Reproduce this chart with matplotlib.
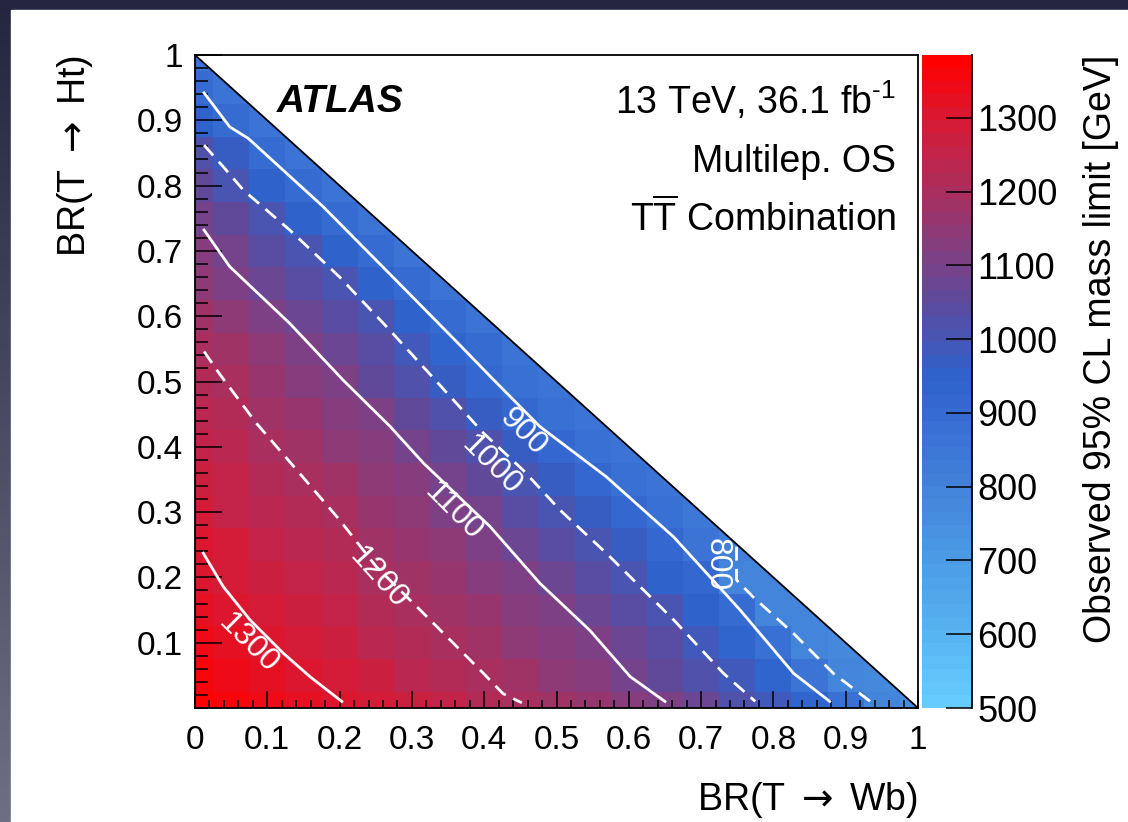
import numpy as np
import matplotlib
matplotlib.use('Agg')
import matplotlib.pyplot as plt
from matplotlib.colors import LinearSegmentedColormap, Normalize
from matplotlib.patches import Polygon, Rectangle
from matplotlib.ticker import MultipleLocator, FixedLocator

plt.rcParams['font.family'] = ['Liberation Sans', 'DejaVu Sans']
plt.rcParams['mathtext.fontset'] = 'custom'
plt.rcParams['mathtext.rm'] = 'Liberation Sans'
plt.rcParams['mathtext.it'] = 'Liberation Sans:italic'
plt.rcParams['mathtext.bf'] = 'Liberation Sans:bold'
plt.rcParams['mathtext.sf'] = 'DejaVu Sans'

# grid of branching ratios (bin centres)
br_wb = [0.0, 0.05, 0.1, 0.15, 0.2, 0.25, 0.3, 0.35, 0.4, 0.45, 0.5,
         0.55, 0.6, 0.65, 0.7, 0.75, 0.8, 0.85, 0.9, 0.95, 1.0]
br_ht = [0.0, 0.05, 0.1, 0.15, 0.2, 0.25, 0.3, 0.35, 0.4, 0.45, 0.5,
         0.55, 0.6, 0.65, 0.7, 0.75, 0.8, 0.85, 0.9, 0.95, 1.0]

# observed mass limit [GeV], one row per BR(Ht), columns BR(Wb) = 0 ... 1-BR(Ht)
mass_rows = [
    [1380, 1360, 1340, 1322, 1305, 1286, 1265, 1245, 1224, 1204, 1180, 1155, 1130, 1105, 1068, 1028, 985, 935, 875, 795, 760],
    [1365, 1344, 1323, 1303, 1282, 1262, 1241, 1221, 1200, 1175, 1150, 1125, 1100, 1063, 1026, 984, 932, 864, 790, 770],
    [1344, 1323, 1303, 1283, 1263, 1243, 1223, 1202, 1178, 1154, 1129, 1105, 1070, 1032, 993, 941, 880, 795, 780],
    [1327, 1306, 1286, 1266, 1246, 1225, 1205, 1181, 1157, 1132, 1107, 1074, 1036, 998, 951, 904, 792, 785],
    [1312, 1292, 1270, 1248, 1227, 1205, 1182, 1158, 1134, 1110, 1077, 1040, 1002, 958, 913, 797, 790],
    [1298, 1279, 1257, 1235, 1212, 1189, 1164, 1140, 1115, 1084, 1045, 1006, 963, 919, 860, 815],
    [1280, 1259, 1238, 1217, 1195, 1170, 1144, 1119, 1089, 1048, 1007, 973, 918, 880, 850],
    [1265, 1244, 1222, 1201, 1174, 1147, 1120, 1091, 1052, 1013, 969, 922, 885, 855],
    [1250, 1228, 1205, 1179, 1152, 1125, 1097, 1056, 1015, 965, 911, 885, 860],
    [1235, 1212, 1186, 1158, 1130, 1102, 1061, 1020, 970, 912, 885, 860],
    [1220, 1195, 1165, 1135, 1104, 1064, 1022, 973, 915, 885, 860],
    [1205, 1174, 1142, 1109, 1071, 1031, 987, 933, 890, 860],
    [1185, 1150, 1115, 1079, 1043, 1007, 951, 890, 860],
    [1150, 1114, 1079, 1043, 1007, 951, 890, 860],
    [1126, 1087, 1047, 1008, 957, 893, 860],
    [1090, 1050, 1007, 950, 896, 860],
    [1060, 1012, 955, 895, 860],
    [1025, 963, 896, 860],
    [960, 890, 860],
    [895, 860],
    [860],
]

# contour lines (BR(Wb), BR(Ht))
c800_x = [0.749, 0.749, 0.772, 0.828, 0.883, 0.934]
c800_y = [0.247, 0.196, 0.170, 0.114, 0.053, 0.010]
c900_x = [0.0125, 0.048, 0.074, 0.177, 0.270, 0.360, 0.410, 0.477, 0.569, 0.662, 0.754, 0.828, 0.878]
c900_y = [0.942, 0.890, 0.872, 0.768, 0.664, 0.563, 0.506, 0.431, 0.354, 0.262, 0.150, 0.053, 0.010]
c1000_x = [0.0125, 0.039, 0.067, 0.131, 0.200, 0.270, 0.330, 0.399, 0.454, 0.505, 0.569, 0.662, 0.731, 0.775]
c1000_y = [0.862, 0.829, 0.793, 0.732, 0.660, 0.578, 0.505, 0.421, 0.364, 0.303, 0.237, 0.135, 0.053, 0.010]
c1100_x = [0.0125, 0.048, 0.131, 0.205, 0.270, 0.316, 0.408, 0.477, 0.546, 0.602, 0.650]
c1100_y = [0.732, 0.676, 0.589, 0.502, 0.431, 0.375, 0.278, 0.191, 0.119, 0.048, 0.010]
c1200_x = [0.0125, 0.035, 0.085, 0.145, 0.200, 0.251, 0.316, 0.399, 0.426, 0.452]
c1200_y = [0.546, 0.510, 0.436, 0.359, 0.288, 0.216, 0.145, 0.053, 0.022, 0.008]
c1300_x = [0.0115, 0.039, 0.076, 0.122, 0.159, 0.203]
c1300_y = [0.237, 0.186, 0.135, 0.084, 0.048, 0.010]

x_ticks = [0.0, 0.1, 0.2, 0.3, 0.4, 0.5, 0.6, 0.7, 0.8, 0.9, 1.0]
x_labels = ['0', '0.1', '0.2', '0.3', '0.4', '0.5', '0.6', '0.7', '0.8', '0.9', '1']
y_ticks = [0.1, 0.2, 0.3, 0.4, 0.5, 0.6, 0.7, 0.8, 0.9, 1.0]
y_labels = ['0.1', '0.2', '0.3', '0.4', '0.5', '0.6', '0.7', '0.8', '0.9', '1']
cbar_ticks = [500, 600, 700, 800, 900, 1000, 1100, 1200, 1300]
z_min, z_max = 500, 1385

# palette
stops = [(500, '#66ccff'), (600, '#57b2f1'), (700, '#4b9ae4'), (800, '#4282da'),
         (900, '#366bd2'), (950, '#2e62cc'), (1000, '#4656b4'), (1050, '#5c4b9e'),
         (1100, '#76428a'), (1150, '#8e3a76'), (1200, '#a73060'), (1250, '#bf254c'),
         (1300, '#d61a36'), (1385, '#ff0000')]
cmap = LinearSegmentedColormap.from_list(
    'lim', [((v - z_min) / (z_max - z_min), c) for v, c in stops], N=50)
norm = Normalize(z_min, z_max)

Z = np.full((len(br_ht), len(br_wb)), np.nan)
for i, row in enumerate(mass_rows):
    Z[i, :len(row)] = row
xc = np.array(br_wb)
yc = np.array(br_ht)
xe = np.append(xc - 0.025, xc[-1] + 0.025)
ye = np.append(yc - 0.025, yc[-1] + 0.025)

fig = plt.figure(figsize=(11.28, 8.22), dpi=100)

# slide background
bg = fig.add_axes([0, 0, 1, 1], zorder=-10)
grad = np.linspace(0, 1, 256).reshape(-1, 1)
bg.imshow(grad, aspect='auto', extent=[0, 1, 0, 1], origin='lower',
          cmap=LinearSegmentedColormap.from_list('bg', ['#6e6e84', '#25253f']))
bg.add_patch(Rectangle((11 / 1128, 0), 1, 812 / 822, color='white'))
bg.set_xlim(0, 1)
bg.set_ylim(0, 1)
bg.axis('off')

ax = fig.add_axes([195 / 1128, 1 - 708 / 822, 723 / 1128, 653 / 822])
mesh = ax.pcolormesh(xe, ye, Z, cmap=cmap, norm=norm, zorder=1)
ax.add_patch(Polygon([(0, 1), (1, 0), (1, 1)], closed=True, facecolor='white',
                     edgecolor='none', zorder=1.5))
ax.plot([0, 1], [1, 0], color='black', lw=1.3, zorder=2)

lw = 2.0
dash = (0, (5, 3))
ax.plot(c1300_x, c1300_y, color='white', lw=lw, zorder=3)
ax.plot(c1200_x, c1200_y, color='white', lw=lw, ls=dash, zorder=3)
ax.plot(c1100_x, c1100_y, color='white', lw=lw, zorder=3)
ax.plot(c1000_x, c1000_y, color='white', lw=lw, ls=dash, zorder=3)
ax.plot(c900_x, c900_y, color='white', lw=lw, zorder=3)
ax.plot(c800_x, c800_y, color='white', lw=lw, ls=dash, zorder=3)

# contour labels
for txt, x, y, rot in [('900', 0.454, 0.423, -45), ('1000', 0.41, 0.372, -45),
                       ('1100', 0.357, 0.300, -45), ('1200', 0.254, 0.199, -48),
                       ('1300', 0.074, 0.099, -45), ('800', 0.722, 0.219, -90)]:
    ax.text(x, y, txt, color='white', fontsize=23, rotation=rot,
            ha='center', va='center', rotation_mode='anchor', zorder=4)

ax.set_xlim(0, 1)
ax.set_ylim(0, 1)
ax.xaxis.set_major_locator(FixedLocator(x_ticks))
ax.xaxis.set_minor_locator(MultipleLocator(0.02))
ax.set_xticklabels(x_labels)
ax.yaxis.set_major_locator(FixedLocator(y_ticks))
ax.yaxis.set_minor_locator(MultipleLocator(0.02))
ax.set_yticklabels(y_labels)
ax.tick_params(axis='x', which='major', direction='in', length=12.5, width=1.1,
               top=False, labelsize=24, pad=12)
ax.tick_params(axis='x', which='minor', direction='in', length=6, width=1.1, top=False)
ax.tick_params(axis='y', which='major', direction='in', length=19.5, width=1.1,
               right=False, labelsize=24, pad=9)
ax.tick_params(axis='y', which='minor', direction='in', length=9.5, width=1.1, right=False)
for s in ax.spines.values():
    s.set_linewidth(1.3)

ax.text(-0.166, 1.0, r'BR(T $\mathsf{\rightarrow}$ Ht)', rotation=90, ha='center', va='top',
        fontsize=27, transform=ax.transAxes)
ax.text(1.0, -0.141, r'BR(T $\mathsf{\rightarrow}$ Wb)', ha='right', va='center', fontsize=27,
        transform=ax.transAxes)

ax.text(0.113, 0.928, 'ATLAS', fontsize=28, fontweight='bold', fontstyle='italic',
        ha='left', va='center', transform=ax.transAxes)
ax.text(0.9696, 0.930, r'13 TeV, 36.1 fb$^{\text{-1}}$', fontsize=27, ha='right',
        va='center', transform=ax.transAxes)
ax.text(0.9696, 0.836, 'Multilep. OS', fontsize=27, ha='right', va='center',
        transform=ax.transAxes)
ax.text(0.9696, 0.750, r'T$\overline{\mathrm{T}}$ Combination', fontsize=27,
        ha='right', va='center', transform=ax.transAxes)

# colour bar
cax = fig.add_axes([922 / 1128, 1 - 708 / 822, 50 / 1128, 653 / 822])
cb = fig.colorbar(mesh, cax=cax, ticks=cbar_ticks)
cb.outline.set_visible(False)
cax.tick_params(axis='y', which='major', direction='in', length=19, width=1.1,
                right=True, left=False, labelsize=26, pad=4)
cax.minorticks_off()
cax.plot([1, 1], [0, 1], color='black', lw=1.3, transform=cax.transAxes, clip_on=False)
fig.text(1101 / 1128, 1 - 55 / 822, 'Observed 95% CL mass limit [GeV]', rotation=90,
         ha='center', va='top', fontsize=27)

fig.savefig('out.png', dpi=100)
